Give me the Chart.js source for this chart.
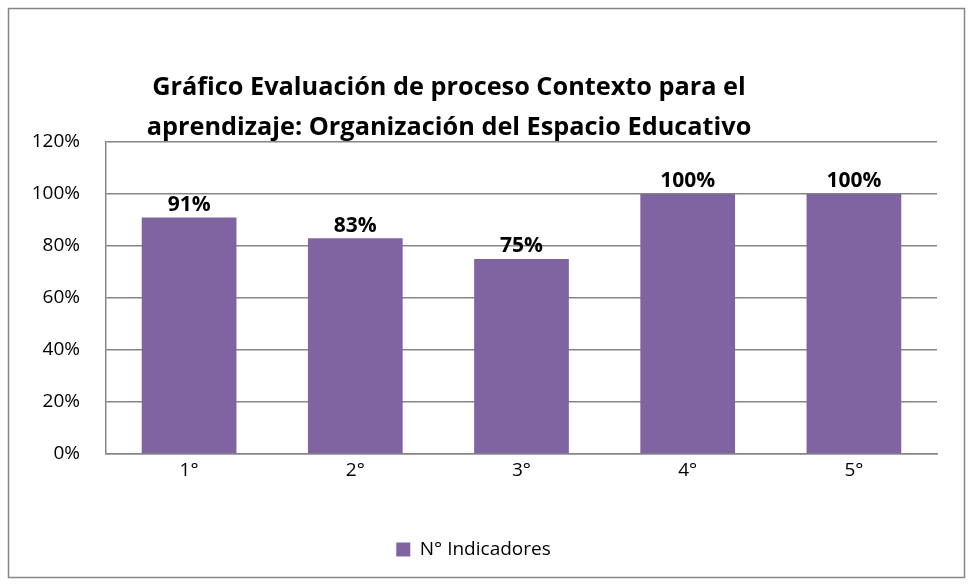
<!DOCTYPE html>
<html>
<head>
<meta charset="utf-8">
<script src="https://cdn.jsdelivr.net/npm/chart.js@4.4.0/dist/chart.umd.min.js"></script>
<style>
  html, body { margin: 0; padding: 0; background: #fff; }
  #wrap { width: 973px; height: 586px; }
</style>
</head>
<body>
<div id="wrap"><canvas id="grafica"></canvas></div>
<script>
// datos
const categorias = ['1°', '2°', '3°', '4°', '5°'];
const indicadores = [91, 83, 75, 100, 100];
const etiquetaSerie = 'N° Indicadores';
const tituloLineas = ['Gráfico Evaluación de proceso Contexto para el', 'aprendizaje: Organización del Espacio Educativo'];
const ticksY = [0, 20, 40, 60, 80, 100, 120];

const fuente = "'Open Sans', 'Noto Sans', sans-serif";
const morado = '#8064A2';
const gris = '#868686';

// marco + titulo
const marco = {
    id: 'marco',
    beforeDraw(chart) {
        const ctx = chart.ctx;
        ctx.save();
        ctx.fillStyle = '#fff';
        ctx.fillRect(0, 0, chart.width, chart.height);
        ctx.strokeStyle = gris;
        ctx.lineWidth = 1.5;
        ctx.strokeRect(8.5, 8.5, 956, 569);
        ctx.restore();
    },
    afterDraw(chart) {
        const ctx = chart.ctx;
        ctx.save();
        ctx.fillStyle = '#000';
        ctx.textAlign = 'center';
        ctx.textBaseline = 'middle';
        let size = 24;
        ctx.font = 'bold ' + size + 'px ' + fuente;
        const w = ctx.measureText(tituloLineas[1]).width;
        size = size * 605 / w;
        ctx.font = 'bold ' + size + 'px ' + fuente;
        ctx.fillText(tituloLineas[0], 449, 88);
        ctx.fillText(tituloLineas[1], 449, 128);
        ctx.restore();
    }
};

// etiquetas sobre las barras
const etiquetas = {
    id: 'etiquetas',
    afterDatasetsDraw(chart) {
        const ctx = chart.ctx;
        const meta = chart.getDatasetMeta(0);
        ctx.save();
        ctx.fillStyle = '#000';
        ctx.font = 'bold 21px ' + fuente;
        ctx.textAlign = 'center';
        ctx.textBaseline = 'bottom';
        meta.data.forEach(function (bar, i) {
            ctx.fillText(indicadores[i] + '%', bar.x, bar.y - 2);
        });
        ctx.restore();
    }
};

new Chart(document.getElementById('grafica'), {
    type: 'bar',
    data: {
        labels: categorias,
        datasets: [{
            label: etiquetaSerie,
            data: indicadores,
            backgroundColor: morado,
            borderWidth: 0,
            categoryPercentage: 1,
            barPercentage: 0.57
        }]
    },
    options: {
        responsive: true,
        maintainAspectRatio: false,
        animation: false,
        layout: { padding: { top: 142, left: 10, right: 36, bottom: 17 } },
        plugins: {
            title: { display: false },
            tooltip: { enabled: false },
            legend: {
                position: 'bottom',
                labels: {
                    color: '#000',
                    font: { family: fuente, size: 19 },
                    boxWidth: 14,
                    boxHeight: 14,
                    padding: 10
                }
            }
        },
        scales: {
            x: {
                grid: { display: false, drawTicks: false },
                border: { color: gris, width: 1.5 },
                ticks: { color: '#000', font: { family: fuente, size: 19 }, padding: 5 },
                afterFit(scale) { scale.height = 76; }
            },
            y: {
                min: 0,
                max: 120,
                afterBuildTicks(scale) { scale.ticks = ticksY.map(v => ({ value: v })); },
                grid: { color: gris, lineWidth: 1.5, drawTicks: false },
                border: { color: gris, width: 1.5 },
                ticks: {
                    color: '#000',
                    font: { family: fuente, size: 19 },
                    padding: 26,
                    callback: v => v + '%'
                },
                afterFit(scale) { scale.width = 96; }
            }
        }
    },
    plugins: [marco, etiquetas]
});
</script>
</body>
</html>
